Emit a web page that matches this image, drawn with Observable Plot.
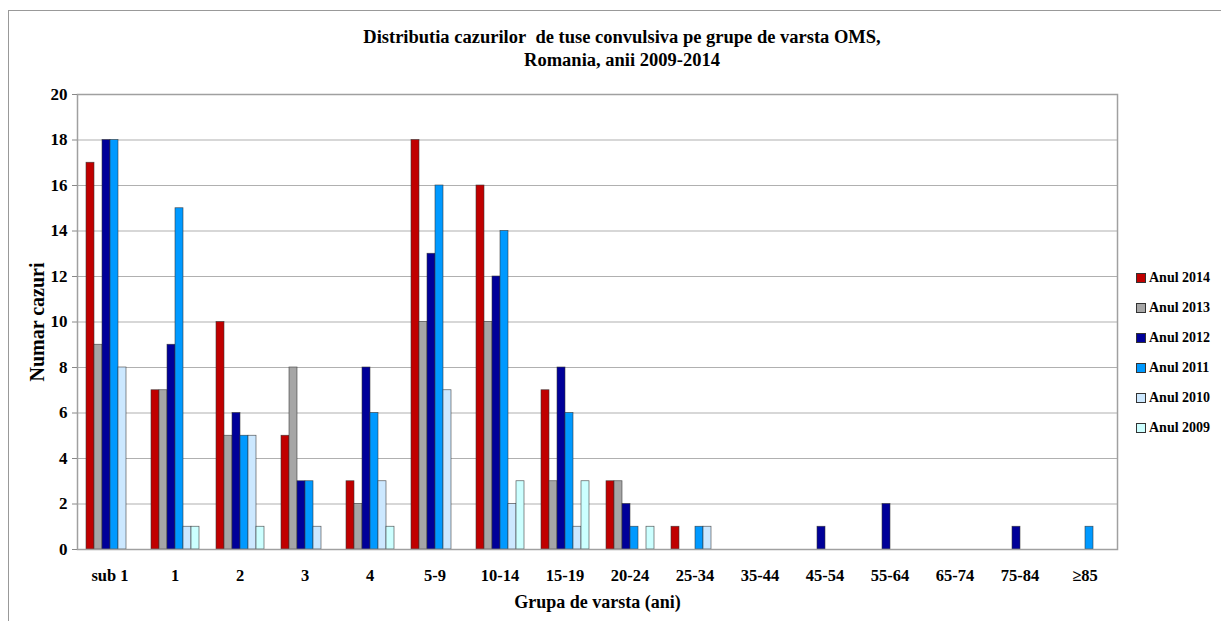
<!DOCTYPE html>
<html>
<head>
<meta charset="utf-8">
<script src="https://cdn.jsdelivr.net/npm/d3@7"></script>
<script src="https://cdn.jsdelivr.net/npm/@observablehq/plot@0.6"></script>
<style>
  html, body { margin: 0; padding: 0; background: #fff; }
  #wrap { position: relative; width: 1221px; height: 621px; overflow: hidden; font-family: "Liberation Serif", "DejaVu Serif", serif; }
  #frame { position: absolute; left: 8px; top: 10px; width: 1230px; height: 640px; border: 1px solid #999; box-sizing: border-box; }
  #title { position: absolute; left: 0; width: 1244px; top: 26px; text-align: center; font-weight: bold; font-size: 18.5px; line-height: 23px; color: #000; }
  #legend { position: absolute; left: 1136px; top: 263px; font-weight: bold; font-size: 14px; color: #000; }
  #legend .item { height: 30px; display: flex; align-items: center; }
  #legend .sw { width: 8px; height: 8px; border: 1px solid #333; margin-right: 3px; }
  #chart { position: absolute; left: 0; top: 0; }
  #chart svg text { font-weight: bold; }
  #chart svg g[aria-label="fx-axis tick label"] { font-size: 16px; }
  #chart svg g[aria-label="y-axis tick label"] { font-size: 16.5px; }
</style>
</head>
<body>
<div id="wrap">
  <div id="frame"></div>
  <div id="title">Distributia cazurilor&nbsp; de tuse convulsiva pe grupe de varsta OMS,<br>Romania, anii 2009-2014</div>
  <div id="chart"></div>
  <div id="legend"></div>
</div>
<script>
const groups = ["sub 1", "1", "2", "3", "4", "5-9", "10-14", "15-19", "20-24", "25-34", "35-44", "45-54", "55-64", "65-74", "75-84", "≥85"];
const years = ["Anul 2014", "Anul 2013", "Anul 2012", "Anul 2011", "Anul 2010", "Anul 2009"];
const colors = ["#C00000", "#A6A6A6", "#000099", "#0099FF", "#CCE8FF", "#CCFFFF"];
const v2014 = [17, 7, 10, 5, 3, 18, 16, 7, 3, 1, 0, 0, 0, 0, 0, 0];
const v2013 = [9, 7, 5, 8, 2, 10, 10, 3, 3, 0, 0, 0, 0, 0, 0, 0];
const v2012 = [18, 9, 6, 3, 8, 13, 12, 8, 2, 0, 0, 1, 2, 0, 1, 0];
const v2011 = [18, 15, 5, 3, 6, 16, 14, 6, 1, 1, 0, 0, 0, 0, 0, 1];
const v2010 = [8, 1, 5, 1, 3, 7, 2, 1, 0, 1, 0, 0, 0, 0, 0, 0];
const v2009 = [0, 1, 1, 0, 1, 0, 3, 3, 1, 0, 0, 0, 0, 0, 0, 0];
const yTicks = [0, 2, 4, 6, 8, 10, 12, 14, 16, 18, 20];

const series = [v2014, v2013, v2012, v2011, v2010, v2009];
const data = [];
groups.forEach((g, gi) => {
  years.forEach((y, yi) => {
    data.push({group: g, year: y, value: series[yi][gi]});
  });
});

const chart = Plot.plot({
  width: 1221,
  height: 621,
  marginLeft: 72,
  marginRight: 99,
  marginTop: 94,
  marginBottom: 72,
  style: {fontFamily: "'Liberation Serif', serif", fontWeight: "bold", color: "#000", background: "transparent"},
  fx: {domain: groups, padding: 0},
  x: {domain: years, paddingInner: 0, paddingOuter: 0.76, axis: null},
  y: {domain: [0, 20]},
  color: {domain: years, range: colors},
  marks: [
    Plot.ruleY(yTicks.filter(d => d > 0), {stroke: "#B0B0B0", strokeWidth: 1.2}),
    Plot.barY(data, {fx: "group", x: "year", y: "value", fill: "year", stroke: "#333", strokeWidth: 0.7, strokeOpacity: 0.8}),
    Plot.ruleY([0], {stroke: "#888", strokeWidth: 1.2}),
    Plot.frame({stroke: "#A0A0A0", strokeWidth: 1.5, facet: "super"}),
    Plot.axisY({ticks: yTicks, tickSize: 5, tickPadding: 5, fontSize: 17, stroke: "#888", label: null}),
    Plot.axisY({ticks: [], tickSize: 0, fontSize: 20, label: "Numar cazuri", labelAnchor: "center", labelArrow: "none", labelOffset: 48}),
    Plot.axisFx({anchor: "bottom", tickSize: 0, tickPadding: 20, fontSize: 16.5, label: null}),
    Plot.axisFx({anchor: "bottom", ticks: [], tickSize: 0, fontSize: 18, label: "Grupa de varsta (ani)", labelAnchor: "center", labelOffset: 58})
  ]
});
document.getElementById("chart").appendChild(chart);

const leg = document.getElementById("legend");
years.forEach((y, i) => {
  const it = document.createElement("div");
  it.className = "item";
  const sw = document.createElement("span");
  sw.className = "sw";
  sw.style.background = colors[i];
  it.appendChild(sw);
  it.appendChild(document.createTextNode(y));
  leg.appendChild(it);
});
</script>
</body>
</html>
